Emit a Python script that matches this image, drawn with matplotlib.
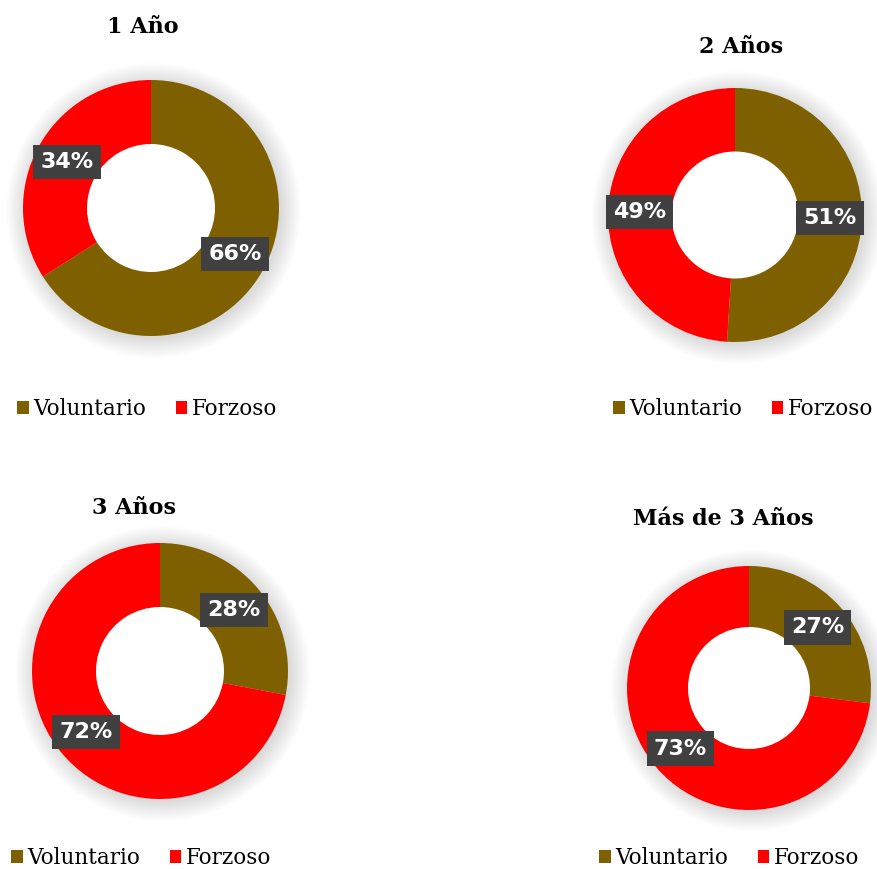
import numpy as np
import matplotlib.pyplot as plt
from matplotlib.patches import Circle

# data
titles = ['1 Año', '2 Años', '3 Años', 'Más de 3 Años']
labels = ['Voluntario', 'Forzoso']
voluntario = [66, 51, 28, 27]
forzoso = [34, 49, 72, 73]
colors = ['#7F6000', '#FF0000']

W, H = 878, 869
fig = plt.figure(figsize=(W / 100, H / 100), dpi=100)

# pixel layout: donut centre/radius, title position, legend anchor
centres = [(151, 208, 128), (735, 215, 127), (160, 671, 128), (749, 688, 122)]
title_pos = [(143, 27), (741, 47), (134, 508), (723, 519)]
legend_pos = [(17, 409), (613, 409), (11, 858), (599, 858)]

for i in range(4):
    cx, cy, r = centres[i]
    ax = fig.add_axes([(cx - r) / W, (H - cy - r) / H, 2 * r / W, 2 * r / H])
    ax.axis('off')

    # soft glow behind the donut
    for k in range(18):
        ax.add_patch(Circle((0.02, -0.02), 1.0 + 0.009 * k, color='#000000',
                            alpha=0.009, lw=0, zorder=0, clip_on=False))

    vals = [voluntario[i], forzoso[i]]
    wedges, _, autotexts = ax.pie(
        vals, colors=colors, startangle=90, counterclock=False, radius=1,
        wedgeprops=dict(width=0.5, edgecolor='none'),
        autopct=lambda p: '%d%%' % round(p), pctdistance=0.75,
        textprops=dict(color='white', fontsize=16, fontweight='bold',
                       family='DejaVu Sans'))
    for w in wedges:
        w.set_zorder(2)
    ax.add_patch(Circle((0, 0), 0.5, color='white', zorder=1.5))
    for t in autotexts:
        t.set_zorder(5)
        t.set_bbox(dict(boxstyle='square,pad=0.32', facecolor='#404040',
                        edgecolor='none'))

    ax.set_xlim(-1, 1)
    ax.set_ylim(-1, 1)
    ax.set_aspect('equal')

    tx, ty = title_pos[i]
    fig.text(tx / W, 1 - ty / H, titles[i], ha='center', va='center',
             fontsize=16, fontweight='bold', family='DejaVu Serif')

    lx, ly = legend_pos[i]
    fig.legend(wedges, labels, loc='center left',
               bbox_to_anchor=(lx / W, 1 - ly / H), ncol=2, frameon=False,
               prop=dict(family='DejaVu Serif', size=15.5),
               handlelength=0.55, handleheight=0.55, handletextpad=0.2,
               columnspacing=1.37, borderaxespad=0, borderpad=0)

fig.savefig('out.png', dpi=100, facecolor='white')
